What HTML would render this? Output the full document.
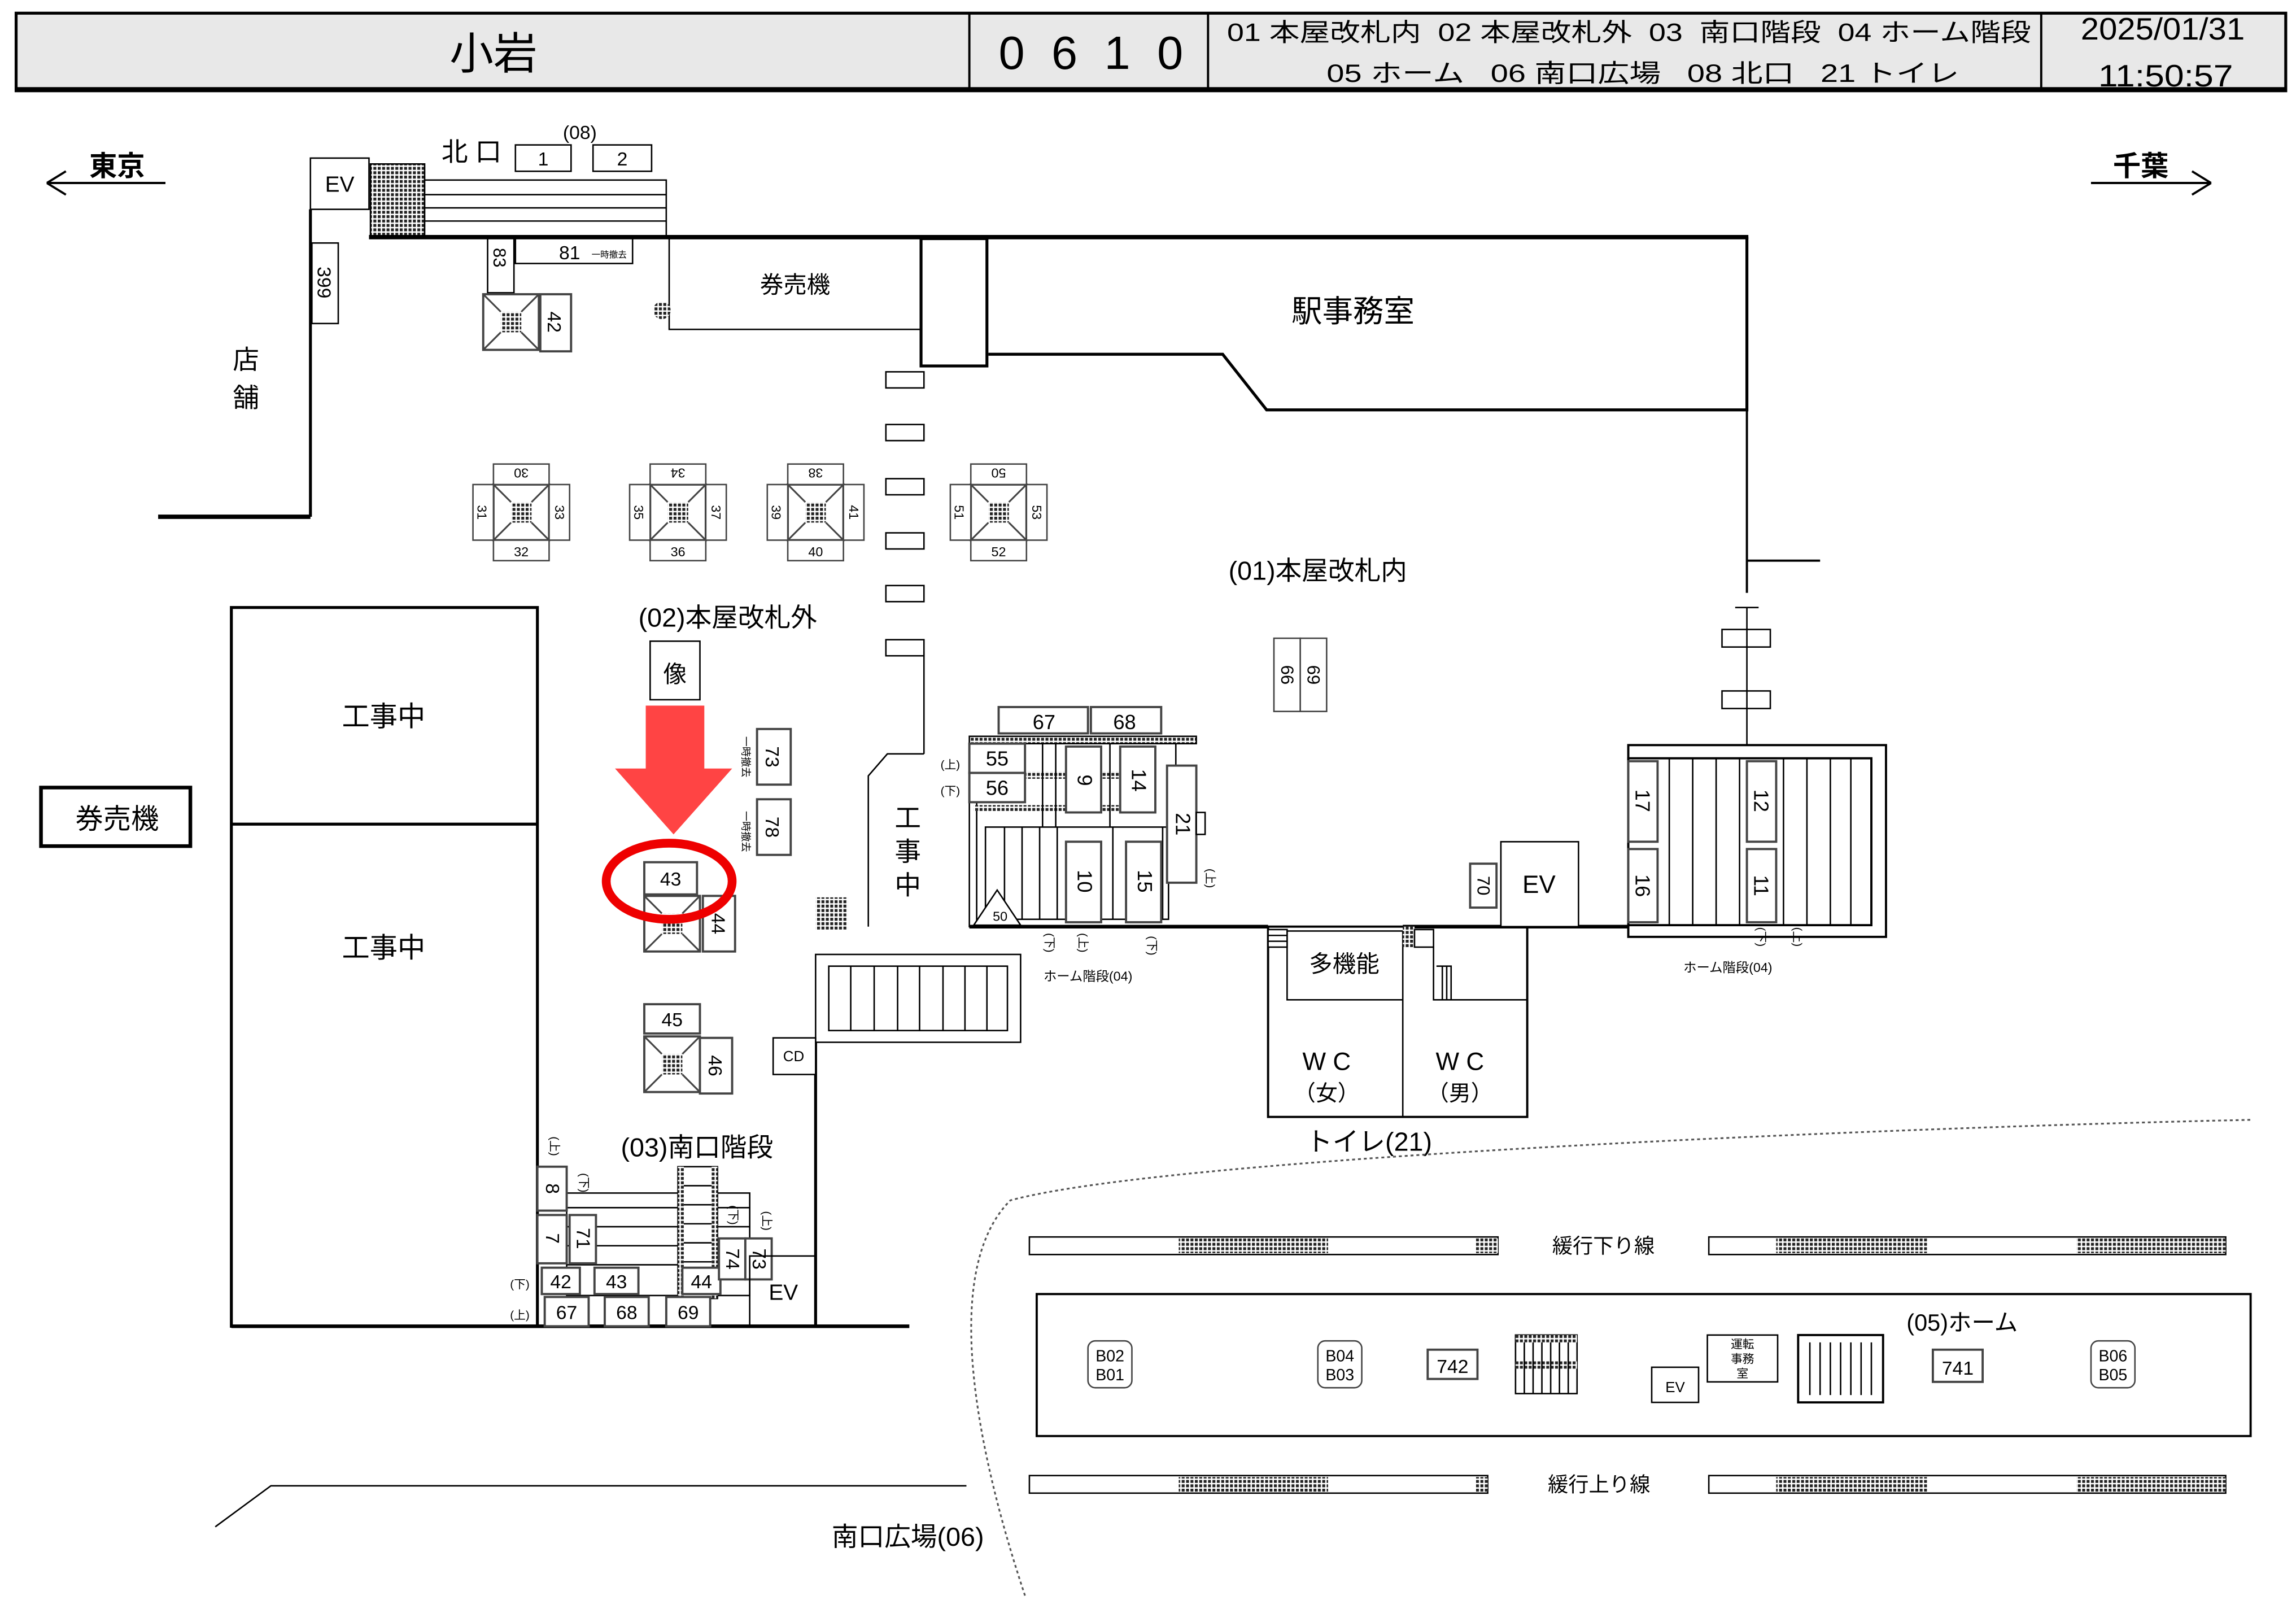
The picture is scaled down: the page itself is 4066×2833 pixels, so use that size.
<!DOCTYPE html>
<html><head><meta charset="utf-8"><style>
html,body{margin:0;padding:0;background:#fff;}
svg{display:block;}
text{font-family:"Liberation Sans","Noto Sans CJK JP",sans-serif;fill:#000;}
</style></head><body>
<svg width="4066" height="2833" viewBox="0 0 1568 1093" preserveAspectRatio="none" xmlns="http://www.w3.org/2000/svg">
<defs>
<pattern id="h" width="3" height="3" patternUnits="userSpaceOnUse"><rect width="3" height="3" fill="#fff"/><rect width="2" height="2" fill="#222"/></pattern>
<g id="kiosk">
<rect x="-19" y="-19" width="38" height="38" fill="#fff" stroke="#444" stroke-width="1.5"/>
<path d="M-19,-19 L-7,-7 M19,-19 L7,-7 M-19,19 L-7,7 M19,19 L7,7" stroke="#444" stroke-width="1.2"/>
<rect x="-7" y="-7" width="14" height="14" fill="url(#h)"/>
</g>
</defs>
<rect width="1568" height="1093" fill="#fff"/>
<!-- header -->
<rect x="11" y="9" width="1550" height="53" fill="#e8e8e8" stroke="#000" stroke-width="2"/>
<line x1="11" y1="61" x2="1561" y2="61" stroke="#000" stroke-width="3"/>
<path d="M662,9V62M825,9V62M1394,9V62" stroke="#000" stroke-width="1.5"/>
<text x="337" y="47" font-size="30" text-anchor="middle">小岩</text>
<text x="682" y="47" font-size="32" textLength="126" lengthAdjust="spacing">0610</text>
<text x="838" y="28" font-size="17" textLength="549" lengthAdjust="spacingAndGlyphs" xml:space="preserve">01 本屋改札内  02 本屋改札外  03  南口階段  04 ホーム階段</text>
<text x="906" y="56" font-size="17" textLength="432" lengthAdjust="spacingAndGlyphs" xml:space="preserve">05 ホーム   06 南口広場   08 北口   21 トイレ</text>
<text x="1421" y="27" font-size="21" textLength="112" lengthAdjust="spacingAndGlyphs">2025/01/31</text>
<text x="1433" y="59" font-size="21" textLength="92" lengthAdjust="spacingAndGlyphs">11:50:57</text>
<!-- direction -->
<text x="80" y="120" font-size="19" text-anchor="middle" font-weight="bold">東京</text>
<path d="M32,125H113M32,125L45,117M32,125L45,133" stroke="#000" stroke-width="1.5" fill="none"/>
<text x="1462" y="120" font-size="19" text-anchor="middle" font-weight="bold">千葉</text>
<path d="M1428,125H1510M1510,125L1497,117M1510,125L1497,133" stroke="#000" stroke-width="1.5" fill="none"/>
<!-- north area -->
<rect x="212" y="108" width="40" height="35" fill="#fff" stroke="#000"/>
<text x="232" y="131" font-size="15" text-anchor="middle">EV</text>
<rect x="253" y="112" width="37" height="50" fill="url(#h)" stroke="#000"/>
<rect x="290" y="123" width="165" height="38" fill="#fff" stroke="#000"/>
<path d="M290,133H455M290,142H455M290,151H455" stroke="#000"/>
<text x="396" y="95" font-size="13" text-anchor="middle">(08)</text>
<text x="322" y="110" font-size="18" text-anchor="middle">北 口</text>
<rect x="352" y="99" width="38" height="18" fill="#fff" stroke="#000"/><text x="371" y="113" font-size="13" text-anchor="middle">1</text>
<rect x="405" y="99" width="40" height="18" fill="#fff" stroke="#000"/><text x="425" y="113" font-size="13" text-anchor="middle">2</text>
<line x1="252" y1="162" x2="1194" y2="162" stroke="#000" stroke-width="3"/>
<path d="M212,143V353" stroke="#000" stroke-width="2" fill="none"/>
<line x1="108" y1="353" x2="212" y2="353" stroke="#000" stroke-width="3"/>
<rect x="213" y="166" width="18" height="55" fill="#fff" stroke="#000"/>
<text transform="translate(217,193) rotate(90)" font-size="13" text-anchor="middle">399</text>
<text x="168" y="252" font-size="18" text-anchor="middle">店</text>
<text x="168" y="278" font-size="18" text-anchor="middle">舗</text>
<rect x="333" y="163" width="18" height="37" fill="#fff" stroke="#000"/>
<text transform="translate(337,176) rotate(90)" font-size="12" text-anchor="middle">83</text>
<rect x="352" y="163" width="80" height="17" fill="#fff" stroke="#000"/>
<text x="389" y="177" font-size="13" text-anchor="middle">81</text><text x="416" y="176" font-size="6" text-anchor="middle">一時撤去</text>
<use href="#kiosk" x="349" y="220"/>
<rect x="369" y="201" width="21" height="39" fill="#fff" stroke="#444" stroke-width="1.5"/>
<text transform="translate(374,220) rotate(90)" font-size="13" text-anchor="middle">42</text>
<rect x="457" y="163" width="172" height="62" fill="#fff" stroke="#000"/>
<circle cx="452" cy="212" r="6" fill="url(#h)"/>
<text x="543" y="200" font-size="16" text-anchor="middle">券売機</text>
<rect x="629" y="163" width="45" height="87" fill="#fff" stroke="#000" stroke-width="2"/>
<path d="M675,242H835L865,280H1193V162" stroke="#000" stroke-width="2" fill="none"/>
<text x="924" y="220" font-size="21" text-anchor="middle">駅事務室</text>
<path d="M1193,280V405M1193,383H1243" stroke="#000" stroke-width="1.5" fill="none"/>
<g fill="#fff" stroke="#000">
<rect x="605" y="254" width="26" height="11"/><rect x="605" y="290" width="26" height="11"/><rect x="605" y="327" width="26" height="11"/><rect x="605" y="364" width="26" height="11"/><rect x="605" y="400" width="26" height="11"/><rect x="605" y="437" width="26" height="11"/>
</g>
<line x1="631" y1="445" x2="631" y2="515" stroke="#000"/>
<!-- kiosk groups -->
<g font-size="9" text-anchor="middle">
<g transform="translate(356,350)"><use href="#kiosk"/>
<rect x="-19" y="-33" width="38" height="14" fill="#fff" stroke="#444"/><text y="-22" transform="rotate(180 0 -26)">30</text>
<rect x="-19" y="19" width="38" height="14" fill="#fff" stroke="#444"/><text y="30">32</text>
<rect x="-33" y="-19" width="14" height="38" fill="#fff" stroke="#444"/><rect x="19" y="-19" width="14" height="38" fill="#fff" stroke="#444"/>
<text transform="translate(-27,0) rotate(90)" y="3">31</text><text transform="translate(26,0) rotate(90)" y="3">33</text></g>
<g transform="translate(463,350)"><use href="#kiosk"/>
<rect x="-19" y="-33" width="38" height="14" fill="#fff" stroke="#444"/><text y="-22" transform="rotate(180 0 -26)">34</text>
<rect x="-19" y="19" width="38" height="14" fill="#fff" stroke="#444"/><text y="30">36</text>
<rect x="-33" y="-19" width="14" height="38" fill="#fff" stroke="#444"/><rect x="19" y="-19" width="14" height="38" fill="#fff" stroke="#444"/>
<text transform="translate(-27,0) rotate(90)" y="3">35</text><text transform="translate(26,0) rotate(90)" y="3">37</text></g>
<g transform="translate(557,350)"><use href="#kiosk"/>
<rect x="-19" y="-33" width="38" height="14" fill="#fff" stroke="#444"/><text y="-22" transform="rotate(180 0 -26)">38</text>
<rect x="-19" y="19" width="38" height="14" fill="#fff" stroke="#444"/><text y="30">40</text>
<rect x="-33" y="-19" width="14" height="38" fill="#fff" stroke="#444"/><rect x="19" y="-19" width="14" height="38" fill="#fff" stroke="#444"/>
<text transform="translate(-27,0) rotate(90)" y="3">39</text><text transform="translate(26,0) rotate(90)" y="3">41</text></g>
<g transform="translate(682,350)"><use href="#kiosk"/>
<rect x="-19" y="-33" width="38" height="14" fill="#fff" stroke="#444"/><text y="-22" transform="rotate(180 0 -26)">50</text>
<rect x="-19" y="19" width="38" height="14" fill="#fff" stroke="#444"/><text y="30">52</text>
<rect x="-33" y="-19" width="14" height="38" fill="#fff" stroke="#444"/><rect x="19" y="-19" width="14" height="38" fill="#fff" stroke="#444"/>
<text transform="translate(-27,0) rotate(90)" y="3">51</text><text transform="translate(26,0) rotate(90)" y="3">53</text></g>
</g>
<text x="900" y="396" font-size="18" text-anchor="middle">(01)本屋改札内</text>
<rect x="870" y="436" width="18" height="50" fill="#fff" stroke="#444"/><rect x="888" y="436" width="18" height="50" fill="#fff" stroke="#444"/>
<text transform="translate(875,461) rotate(90)" font-size="12" text-anchor="middle">66</text>
<text transform="translate(893,461) rotate(90)" font-size="12" text-anchor="middle">69</text>
<!-- left -->
<rect x="158" y="415" width="209" height="491" fill="#fff" stroke="#000" stroke-width="2"/>
<line x1="158" y1="563" x2="367" y2="563" stroke="#000" stroke-width="2"/>
<text x="262" y="496" font-size="19" text-anchor="middle">工事中</text>
<text x="262" y="654" font-size="19" text-anchor="middle">工事中</text>
<rect x="28" y="538" width="102" height="40" fill="#fff" stroke="#000" stroke-width="2.5"/>
<text x="80" y="566" font-size="19" text-anchor="middle">券売機</text>
<text x="497" y="428" font-size="18" text-anchor="middle">(02)本屋改札外</text>
<rect x="444" y="438" width="34" height="40" fill="#fff" stroke="#000"/>
<text x="461" y="466" font-size="16" text-anchor="middle">像</text>
<rect x="517" y="498" width="23" height="38" fill="#fff" stroke="#444" stroke-width="1.5"/>
<text transform="translate(523,517) rotate(90)" font-size="13" text-anchor="middle">73</text>
<rect x="517" y="546" width="23" height="38" fill="#fff" stroke="#444" stroke-width="1.5"/>
<text transform="translate(523,565) rotate(90)" font-size="13" text-anchor="middle">78</text>
<text transform="translate(507,517) rotate(90)" font-size="7" text-anchor="middle">一時撤去</text>
<text transform="translate(507,568) rotate(90)" font-size="7" text-anchor="middle">一時撤去</text>
<rect x="440" y="589" width="36" height="22" fill="#fff" stroke="#444" stroke-width="1.5"/>
<text x="458" y="605" font-size="13" text-anchor="middle">43</text>
<use href="#kiosk" x="459" y="631"/>
<rect x="480" y="612" width="22" height="38" fill="#fff" stroke="#444" stroke-width="1.5"/>
<text transform="translate(486,631) rotate(90)" font-size="13" text-anchor="middle">44</text>
<rect x="440" y="686" width="38" height="20" fill="#fff" stroke="#444" stroke-width="1.5"/>
<text x="459" y="701" font-size="13" text-anchor="middle">45</text>
<use href="#kiosk" x="459" y="727"/>
<rect x="478" y="709" width="22" height="38" fill="#fff" stroke="#444" stroke-width="1.5"/>
<text transform="translate(484,728) rotate(90)" font-size="13" text-anchor="middle">46</text>
<rect x="557" y="613" width="22" height="22" fill="url(#h)"/>
<!-- red arrow -->
<path d="M441,482H481V525H500L460,570L420,525H441Z" fill="#ff4444"/>
<ellipse cx="457" cy="602" rx="43" ry="26" fill="none" stroke="#ee0000" stroke-width="6"/>
<!-- construction / south -->
<path d="M593,633V530L606,515H631" stroke="#000" fill="none"/>
<text x="620" y="565" font-size="18" text-anchor="middle">工</text>
<text x="620" y="588" font-size="18" text-anchor="middle">事</text>
<text x="620" y="611" font-size="18" text-anchor="middle">中</text>
<rect x="557" y="652" width="140" height="60" fill="#fff" stroke="#000"/>
<rect x="566" y="660" width="122" height="44" fill="#fff" stroke="#000"/>
<path d="M581,660V704M597,660V704M613,660V704M628,660V704M644,660V704M659,660V704M674,660V704" stroke="#000"/>
<line x1="557" y1="712" x2="557" y2="906" stroke="#000" stroke-width="2"/>
<rect x="528" y="709" width="29" height="25" fill="#fff" stroke="#000"/>
<text x="542" y="725" font-size="10" text-anchor="middle">CD</text>
<line x1="158" y1="906" x2="621" y2="906" stroke="#000" stroke-width="2.5"/>
<text x="476" y="790" font-size="18" text-anchor="middle">(03)南口階段</text>
<rect x="387" y="815" width="125" height="70" fill="#fff" stroke="#000"/>
<path d="M387,825H512M387,838H512M387,851H512M387,864H512" stroke="#000"/>
<rect x="463" y="797" width="27" height="90" fill="#fff" stroke="#000"/>
<rect x="463" y="797" width="4" height="90" fill="url(#h)"/><rect x="486" y="797" width="4" height="90" fill="url(#h)"/>
<path d="M467,810H486M467,823H486M467,836H486M467,849H486M467,862H486M467,875H486" stroke="#000"/>
<g fill="#fff" stroke="#444" stroke-width="1.5">
<rect x="367" y="797" width="20" height="30"/><rect x="367" y="830" width="20" height="33"/><rect x="389" y="830" width="18" height="33"/>
<rect x="370" y="866" width="26" height="18"/><rect x="406" y="866" width="30" height="18"/><rect x="466" y="866" width="26" height="18"/>
<rect x="372" y="886" width="30" height="20"/><rect x="413" y="886" width="30" height="20"/><rect x="455" y="886" width="30" height="20"/>
<rect x="491" y="846" width="18" height="28"/><rect x="509" y="846" width="18" height="28"/>
</g>
<g font-size="13" text-anchor="middle">
<text transform="translate(373,812) rotate(90)">8</text><text transform="translate(373,846) rotate(90)">7</text><text transform="translate(394,846) rotate(90)">71</text>
<text x="383" y="880">42</text><text x="421" y="880">43</text><text x="479" y="880">44</text>
<text x="387" y="901">67</text><text x="428" y="901">68</text><text x="470" y="901">69</text>
<text transform="translate(496,860) rotate(90)">74</text><text transform="translate(514,860) rotate(90)">73</text>
</g>
<g font-size="8" text-anchor="middle">
<text x="355" y="880">(下)</text><text x="355" y="901">(上)</text>
<text transform="translate(376,783) rotate(90)">(上)</text><text transform="translate(396,808) rotate(90)">(下)</text>
<text transform="translate(498,830) rotate(90)">(下)</text><text transform="translate(521,834) rotate(90)">(上)</text>
</g>
<rect x="512" y="858" width="45" height="48" fill="none" stroke="#000"/>
<text x="535" y="888" font-size="15" text-anchor="middle">EV</text>
<!-- center stairs -->
<g fill="#fff" stroke="#444" stroke-width="1.5">
<rect x="682" y="483" width="61" height="18"/><rect x="745" y="483" width="48" height="18"/>
</g>
<text x="713" y="498" font-size="14" text-anchor="middle">67</text><text x="768" y="498" font-size="14" text-anchor="middle">68</text>
<rect x="662" y="503" width="155" height="5" fill="url(#h)" stroke="#000"/>
<rect x="662" y="508" width="5" height="125" fill="#fff" stroke="#000"/>
<rect x="700" y="527" width="28" height="5" fill="url(#h)"/><rect x="752" y="527" width="13" height="5" fill="url(#h)"/>
<rect x="665" y="550" width="63" height="4" fill="url(#h)"/><rect x="752" y="550" width="13" height="4" fill="url(#h)"/>
<rect x="673" y="565" width="125" height="63" fill="#fff" stroke="#000"/>
<path d="M686,565V628M698,565V628M710,565V628M722,565V628M760,565V628M794,565V628" stroke="#000"/>
<path d="M712,508V565M721,508V565M758,508V565M803,508V565" stroke="#000"/>
<g fill="#fff" stroke="#444" stroke-width="1.5">
<rect x="662" y="508" width="38" height="20"/><rect x="662" y="528" width="38" height="20"/>
<rect x="728" y="510" width="24" height="45"/><rect x="765" y="510" width="24" height="45"/>
<rect x="797" y="523" width="20" height="80"/>
<rect x="728" y="575" width="24" height="55"/><rect x="769" y="575" width="24" height="55"/>
</g>
<rect x="817" y="555" width="6" height="15" fill="#fff" stroke="#000"/>
<g font-size="14" text-anchor="middle">
<text x="681" y="523">55</text><text x="681" y="543">56</text>
<text transform="translate(736,533) rotate(90)">9</text><text transform="translate(773,533) rotate(90)">14</text>
<text transform="translate(803,563) rotate(90)">21</text>
<text transform="translate(736,602) rotate(90)">10</text><text transform="translate(777,602) rotate(90)">15</text>
</g>
<path d="M665,632L681,608L697,632Z" fill="#fff" stroke="#000"/>
<text x="683" y="629" font-size="9" text-anchor="middle">50</text>
<g font-size="8" text-anchor="middle">
<text x="649" y="525">(上)</text><text x="649" y="543">(下)</text>
<text transform="translate(714,644) rotate(90)">(下)</text><text transform="translate(737,644) rotate(90)">(上)</text><text transform="translate(784,646) rotate(90)">(下)</text>
<text transform="translate(824,600) rotate(90)">(上)</text>
</g>
<text x="743" y="670" font-size="9" text-anchor="middle">ホーム階段(04)</text>
<line x1="662" y1="633" x2="866" y2="633" stroke="#000" stroke-width="2.5"/>
<line x1="958" y1="633" x2="1170" y2="633" stroke="#000" stroke-width="2.5"/>
<!-- toilet -->
<rect x="866" y="633" width="177" height="130" fill="none" stroke="#000" stroke-width="1.5"/>
<line x1="958" y1="683" x2="958" y2="763" stroke="#000"/>
<rect x="879" y="636" width="79" height="47" fill="#fff" stroke="#000"/>
<rect x="866" y="635" width="13" height="12" fill="#fff" stroke="#000"/>
<path d="M866,639H879M866,643H879M966,639H979M966,643H979" stroke="#000"/>
<rect x="958" y="633" width="8" height="14" fill="url(#h)"/>
<rect x="966" y="635" width="13" height="12" fill="#fff" stroke="#000"/>
<path d="M979,647V683H1043M981,660H991V683M985,660V683M988,660V683" stroke="#000" fill="none"/>
<text x="918" y="664" font-size="16" text-anchor="middle">多機能</text>
<text x="906" y="731" font-size="17" text-anchor="middle">W C</text><text x="906" y="752" font-size="15" text-anchor="middle">（女）</text>
<text x="997" y="731" font-size="17" text-anchor="middle">W C</text><text x="997" y="752" font-size="15" text-anchor="middle">（男）</text>
<text x="935" y="786" font-size="18" text-anchor="middle">トイレ(21)</text>
<rect x="1025" y="575" width="53" height="58" fill="#fff" stroke="#000"/>
<text x="1051" y="610" font-size="17" text-anchor="middle">EV</text>
<rect x="1004" y="590" width="18" height="30" fill="#fff" stroke="#444" stroke-width="1.5"/>
<text transform="translate(1009,605) rotate(90)" font-size="12" text-anchor="middle">70</text>
<!-- right stairs -->
<rect x="1176" y="430" width="33" height="12" fill="#fff" stroke="#000"/>
<rect x="1176" y="472" width="33" height="12" fill="#fff" stroke="#000"/>
<line x1="1193" y1="415" x2="1193" y2="509" stroke="#000"/><line x1="1185" y1="415" x2="1201" y2="415" stroke="#000"/>
<rect x="1112" y="509" width="176" height="131" fill="#fff" stroke="#000" stroke-width="1.5"/>
<rect x="1112" y="518" width="166" height="114" fill="#fff" stroke="#000" stroke-width="1.5"/>
<path d="M1140,518V632M1156,518V632M1172,518V632M1188,518V632M1218,518V632M1234,518V632M1250,518V632M1264,518V632" stroke="#000"/>
<g fill="#fff" stroke="#444" stroke-width="1.5">
<rect x="1112" y="520" width="20" height="55"/><rect x="1112" y="580" width="20" height="50"/>
<rect x="1193" y="520" width="20" height="55"/><rect x="1193" y="580" width="20" height="50"/>
</g>
<g font-size="14" text-anchor="middle">
<text transform="translate(1117,547) rotate(90)">17</text><text transform="translate(1117,605) rotate(90)">16</text>
<text transform="translate(1198,547) rotate(90)">12</text><text transform="translate(1198,605) rotate(90)">11</text>
</g>
<g font-size="8" text-anchor="middle"><text transform="translate(1200,640) rotate(90)">(下)</text><text transform="translate(1225,640) rotate(90)">(上)</text></g>
<text x="1180" y="664" font-size="9" text-anchor="middle">ホーム階段(04)</text>
<!-- platform -->
<path d="M700,1090C670,1000 640,870 690,820C800,790 1300,770 1537,765" fill="none" stroke="#555" stroke-width="1.2" stroke-dasharray="2,2"/>
<g stroke="#000" fill="#fff">
<rect x="703" y="845" width="320" height="12"/><rect x="1167" y="845" width="353" height="12"/>
<rect x="703" y="1008" width="313" height="12"/><rect x="1167" y="1008" width="353" height="12"/>
</g>
<g fill="url(#h)">
<rect x="805" y="846" width="102" height="10"/><rect x="1008" y="846" width="15" height="10"/>
<rect x="1213" y="846" width="103" height="10"/><rect x="1418" y="846" width="102" height="10"/>
<rect x="805" y="1009" width="102" height="10"/><rect x="1008" y="1009" width="8" height="10"/>
<rect x="1213" y="1009" width="103" height="10"/><rect x="1418" y="1009" width="102" height="10"/>
</g>
<text x="1095" y="856" font-size="14" text-anchor="middle">緩行下り線</text>
<text x="1092" y="1019" font-size="14" text-anchor="middle">緩行上り線</text>
<rect x="708" y="884" width="829" height="97" fill="none" stroke="#000" stroke-width="1.5"/>
<text x="1340" y="909" font-size="16" text-anchor="middle">(05)ホーム</text>
<g font-size="11" text-anchor="middle">
<rect x="743" y="916" width="30" height="32" rx="5" fill="#fff" stroke="#444"/><text x="758" y="930">B02</text><text x="758" y="943">B01</text>
<rect x="900" y="916" width="30" height="32" rx="5" fill="#fff" stroke="#444"/><text x="915" y="930">B04</text><text x="915" y="943">B03</text>
<rect x="1428" y="916" width="30" height="32" rx="5" fill="#fff" stroke="#444"/><text x="1443" y="930">B06</text><text x="1443" y="943">B05</text>
</g>
<rect x="975" y="922" width="34" height="20" fill="#fff" stroke="#444" stroke-width="1.5"/><text x="992" y="938" font-size="13" text-anchor="middle">742</text>
<rect x="1320" y="922" width="34" height="22" fill="#fff" stroke="#444" stroke-width="1.5"/><text x="1337" y="939" font-size="13" text-anchor="middle">741</text>
<rect x="1035" y="912" width="42" height="40" fill="#fff" stroke="#000"/>
<rect x="1035" y="912" width="42" height="5" fill="url(#h)"/><rect x="1035" y="930" width="42" height="5" fill="url(#h)"/>
<path d="M1041,917V952M1047,917V952M1053,917V952M1059,917V952M1065,917V952M1071,917V952" stroke="#000"/>
<rect x="1128" y="934" width="32" height="24" fill="#fff" stroke="#000"/><text x="1144" y="951" font-size="10" text-anchor="middle">EV</text>
<rect x="1166" y="912" width="48" height="32" fill="#fff" stroke="#000"/>
<text x="1190" y="921" font-size="8" text-anchor="middle">運転</text><text x="1190" y="931" font-size="8" text-anchor="middle">事務</text><text x="1190" y="941" font-size="8" text-anchor="middle">室</text>
<rect x="1228" y="912" width="58" height="46" fill="#fff" stroke="#000" stroke-width="1.5"/>
<path d="M1236,917V953M1243,917V953M1250,917V953M1257,917V953M1264,917V953M1271,917V953M1278,917V953" stroke="#000"/>
<path d="M147,1043L185,1015H660" stroke="#000" fill="none"/>
<text x="620" y="1056" font-size="18" text-anchor="middle">南口広場(06)</text>
</svg>
</body></html>
